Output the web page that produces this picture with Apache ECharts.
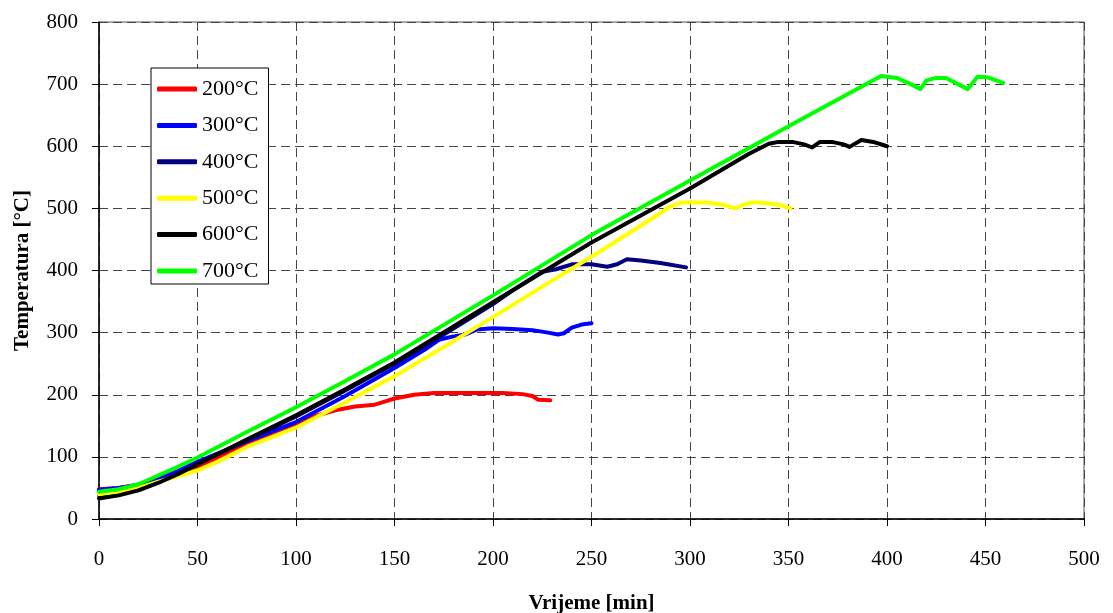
<!DOCTYPE html>
<html>
<head>
<meta charset="utf-8">
<script src="https://cdn.jsdelivr.net/npm/echarts@6/dist/echarts.min.js"></script>
<style>
  html, body { margin: 0; padding: 0; background: #fff; }
  #chart { width: 1113px; height: 613px; }
</style>
</head>
<body>
<div id="chart"></div>
<script>
// vrijeme [min] i temperatura [°C], ocitano sa slike
var names = ['200°C', '300°C', '400°C', '500°C', '600°C', '700°C'];
var colors = ['#ff0000', '#0000ff', '#000080', '#ffff00', '#000000', '#00ff00'];

var t200 = [0, 10, 20, 30, 40, 50, 75, 100, 110, 120, 130, 140, 145, 150, 160, 170, 190, 205, 215, 220, 223, 229];
var T200 = [48, 50, 55, 63, 72, 82, 120, 152, 166, 175, 181, 184, 189, 194, 200, 203, 203, 203, 201, 198, 192, 191];

var t300 = [0, 10, 20, 30, 40, 50, 75, 100, 125, 150, 165, 173, 180, 186, 192, 200, 210, 220, 228, 233, 236, 240, 245, 250];
var T300 = [47, 50, 55, 65, 77, 92, 125, 156, 198, 243, 272, 289, 294, 297, 305, 307, 306, 304, 300, 297, 299, 308, 313, 315];

var t400 = [0, 10, 20, 30, 40, 50, 75, 100, 125, 150, 175, 200, 210, 220, 225, 232, 240, 250, 258, 263, 268, 275, 285, 298];
var T400 = [38, 40, 47, 59, 72, 88, 127, 165, 207, 250, 297, 346, 368, 388, 398, 402, 410, 410, 406, 410, 418, 416, 412, 405];

var t500 = [0, 10, 20, 30, 40, 50, 60, 75, 100, 125, 150, 175, 200, 225, 250, 275, 290, 295, 300, 310, 318, 323, 328, 333, 340, 345, 351];
var T500 = [40, 44, 50, 60, 69, 78, 92, 116, 147, 188, 230, 277, 325, 374, 422, 472, 503, 509, 510, 509, 505, 500, 507, 510, 508, 506, 500];

var t600 = [0, 10, 20, 30, 40, 50, 75, 100, 125, 150, 200, 250, 300, 330, 340, 345, 352, 358, 362, 366, 372, 378, 381, 387, 393, 400];
var T600 = [33, 38, 46, 58, 72, 88, 128, 167, 209, 252, 349, 445, 532, 588, 604, 607, 607, 603, 598, 607, 607, 603, 599, 610, 607, 600];

var t700 = [0, 10, 20, 30, 40, 50, 75, 100, 125, 150, 200, 250, 300, 350, 397, 405, 412, 417, 420, 425, 430, 436, 441, 446, 451, 459];
var T700 = [44, 48, 56, 70, 84, 99, 140, 180, 222, 265, 360, 457, 545, 632, 713, 710, 700, 692, 706, 710, 710, 700, 692, 712, 711, 702];

var xs = [t200, t300, t400, t500, t600, t700];
var ys = [T200, T300, T400, T500, T600, T700];

var font = 'Liberation Serif, Times New Roman, serif';

var series = [];
for (var i = 0; i < names.length; i++) {
  var pts = [];
  for (var k = 0; k < xs[i].length; k++) {
    pts.push([xs[i][k], ys[i][k]]);
  }
  series.push({
    name: names[i],
    type: 'line',
    symbol: 'none',
    smooth: false,
    data: pts,
    itemStyle: { color: colors[i] },
    lineStyle: { color: colors[i], width: 4, join: 'round', cap: 'round' },
    animation: false
  });
}

var legendData = [];
for (var j = 0; j < names.length; j++) {
  legendData.push({ name: names[j], icon: 'roundRect' });
}

var myChart = echarts.init(document.getElementById('chart'));
var option = {
  backgroundColor: '#fff',
  textStyle: { fontFamily: font },
  grid: {
    left: 99, right: 29, top: 22, bottom: 94,
    outerBoundsMode: 'none',
    containLabel: false,
    show: true, borderColor: '#555', borderWidth: 1
  },
  legend: {
    orient: 'vertical',
    left: 151, top: 68,
    padding: [10, 10, 2, 6],
    itemWidth: 40, itemHeight: 5, itemGap: 14.4, itemTextGap: 5,
    backgroundColor: '#fff',
    borderColor: '#000', borderWidth: 1,
    textStyle: { fontFamily: font, fontSize: 22, color: '#000', lineHeight: 20 },
    data: legendData
  },
  xAxis: {
    type: 'value',
    min: 0, max: 500, interval: 50,
    name: 'Vrijeme [min]',
    nameLocation: 'middle',
    nameGap: 74,
    nameTextStyle: { fontFamily: font, fontSize: 21, fontWeight: 'bold', color: '#000' },
    axisLine: { lineStyle: { color: '#000', width: 1.5 } },
    axisTick: { show: true, inside: false, length: 7, lineStyle: { color: '#000' } },
    axisLabel: { fontFamily: font, fontSize: 21, color: '#000', margin: 30 },
    splitLine: { show: true, lineStyle: { color: '#444', type: [9, 5], width: 1 } }
  },
  yAxis: {
    type: 'value',
    min: 0, max: 800, interval: 100,
    name: 'Temperatura [°C]',
    nameLocation: 'middle',
    nameGap: 66,
    nameRotate: 90,
    nameTextStyle: { fontFamily: font, fontSize: 21, fontWeight: 'bold', color: '#000' },
    axisLine: { show: true, lineStyle: { color: '#000', width: 1.5 } },
    axisTick: { show: true, inside: false, length: 7, lineStyle: { color: '#000' } },
    axisLabel: { fontFamily: font, fontSize: 21, color: '#000', margin: 21 },
    splitLine: { show: true, lineStyle: { color: '#444', type: [9, 5], width: 1 } }
  },
  series: series
};
myChart.setOption(option);
</script>
</body>
</html>
